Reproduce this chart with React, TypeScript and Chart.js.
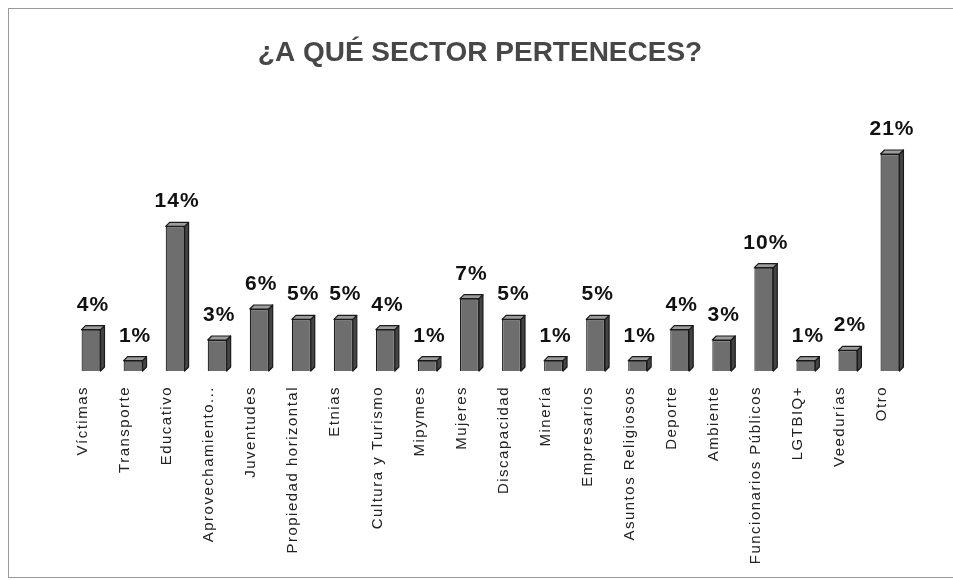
import React, { useEffect, useRef } from 'react';
import { Chart, registerables } from 'chart.js';

Chart.register(...registerables);

const chartTitle = '¿A QUÉ SECTOR PERTENECES?';
const categories = [
  'Víctimas', 'Transporte', 'Educativo', 'Aprovechamiento...', 'Juventudes',
  'Propiedad horizontal', 'Etnias', 'Cultura y Turismo', 'Mipymes', 'Mujeres',
  'Discapacidad', 'Minería', 'Empresarios', 'Asuntos Religiosos', 'Deporte',
  'Ambiente', 'Funcionarios Públicos', 'LGTBIQ+', 'Veedurías', 'Otro',
];
const values = [4, 1, 14, 3, 6, 5, 5, 4, 1, 7, 5, 1, 5, 1, 4, 3, 10, 1, 2, 21];
const yMax = 24;

const DEPTH = 4;
const FONT = '"Liberation Sans", Arial, Helvetica, sans-serif';

const bar3dPlugin = {
  id: 'bar3d',
  beforeDraw(chart: any) {
    chart.ctx.letterSpacing = '1.5px';
  },
  afterDatasetsDraw(chart: any) {
    const ctx = chart.ctx;
    const meta = chart.getDatasetMeta(0);
    meta.data.forEach((bar: any, i: number) => {
      const { x, y, base, width } = bar.getProps(['x', 'y', 'base', 'width'], true);
      const l = x - width / 2;
      const r = x + width / 2;
      ctx.save();
      ctx.lineWidth = 1.2;
      ctx.strokeStyle = '#1a1a1a';
      ctx.lineJoin = 'round';
      ctx.beginPath();
      ctx.moveTo(r, y);
      ctx.lineTo(r + DEPTH, y - DEPTH);
      ctx.lineTo(r + DEPTH, base - DEPTH);
      ctx.lineTo(r, base);
      ctx.closePath();
      ctx.fillStyle = '#444444';
      ctx.fill();
      ctx.stroke();
      ctx.beginPath();
      ctx.moveTo(l, y);
      ctx.lineTo(l + DEPTH, y - DEPTH);
      ctx.lineTo(r + DEPTH, y - DEPTH);
      ctx.lineTo(r, y);
      ctx.closePath();
      ctx.fillStyle = '#9c9c9c';
      ctx.fill();
      ctx.stroke();
      ctx.font = 'bold 21px ' + FONT;
      ctx.letterSpacing = '1px';
      ctx.fillStyle = '#111';
      ctx.textAlign = 'center';
      ctx.textBaseline = 'alphabetic';
      ctx.fillText(values[i] + '%', x + DEPTH / 2, y - DEPTH - 15);
      ctx.restore();
    });
  },
  afterDraw(chart: any) {
    const ctx = chart.ctx;
    ctx.save();
    ctx.font = 'bold 28px ' + FONT;
    ctx.letterSpacing = '0px';
    ctx.fillStyle = '#474747';
    ctx.textAlign = 'center';
    ctx.textBaseline = 'alphabetic';
    ctx.fillText(chartTitle, 471, 52);
    ctx.restore();
  },
};

export default function App() {
  const ref = useRef<HTMLCanvasElement | null>(null);
  useEffect(() => {
    if (!ref.current) return;
    const chart = new Chart(ref.current, {
      type: 'bar',
      data: {
        labels: categories,
        datasets: [
          {
            data: values,
            backgroundColor: '#6e6e6e',
            borderColor: '#1a1a1a',
            borderWidth: 1.2,
            barPercentage: 0.45,
            categoryPercentage: 1,
          },
        ],
      },
      options: {
        animation: false,
        responsive: false,
        layout: { padding: { left: 61, right: 42, top: 114, bottom: 0 } },
        plugins: {
          legend: { display: false },
          title: { display: false },
          tooltip: { enabled: false },
        },
        scales: {
          x: {
            grid: { display: false, drawTicks: false },
            border: { display: false },
            ticks: {
              autoSkip: false,
              maxRotation: 90,
              minRotation: 90,
              padding: 15,
              labelOffset: -8,
              color: '#222',
              font: { family: FONT, size: 15 },
            },
            afterFit: (scale: any) => {
              scale.height = 206;
            },
          },
          y: {
            display: false,
            min: 0,
            max: yMax,
          },
        },
      },
      plugins: [bar3dPlugin],
    });
    return () => chart.destroy();
  }, []);

  return (
    <div
      style={{
        position: 'fixed',
        left: 8,
        top: 8,
        width: 980,
        height: 568,
        borderTop: '1px solid #9a9a9a',
        borderLeft: '1px solid #9a9a9a',
        borderBottom: '1px solid #9a9a9a',
        background: '#fff',
      }}
    >
      <canvas ref={ref} width={944} height={568} style={{ display: 'block' }} />
    </div>
  );
}
